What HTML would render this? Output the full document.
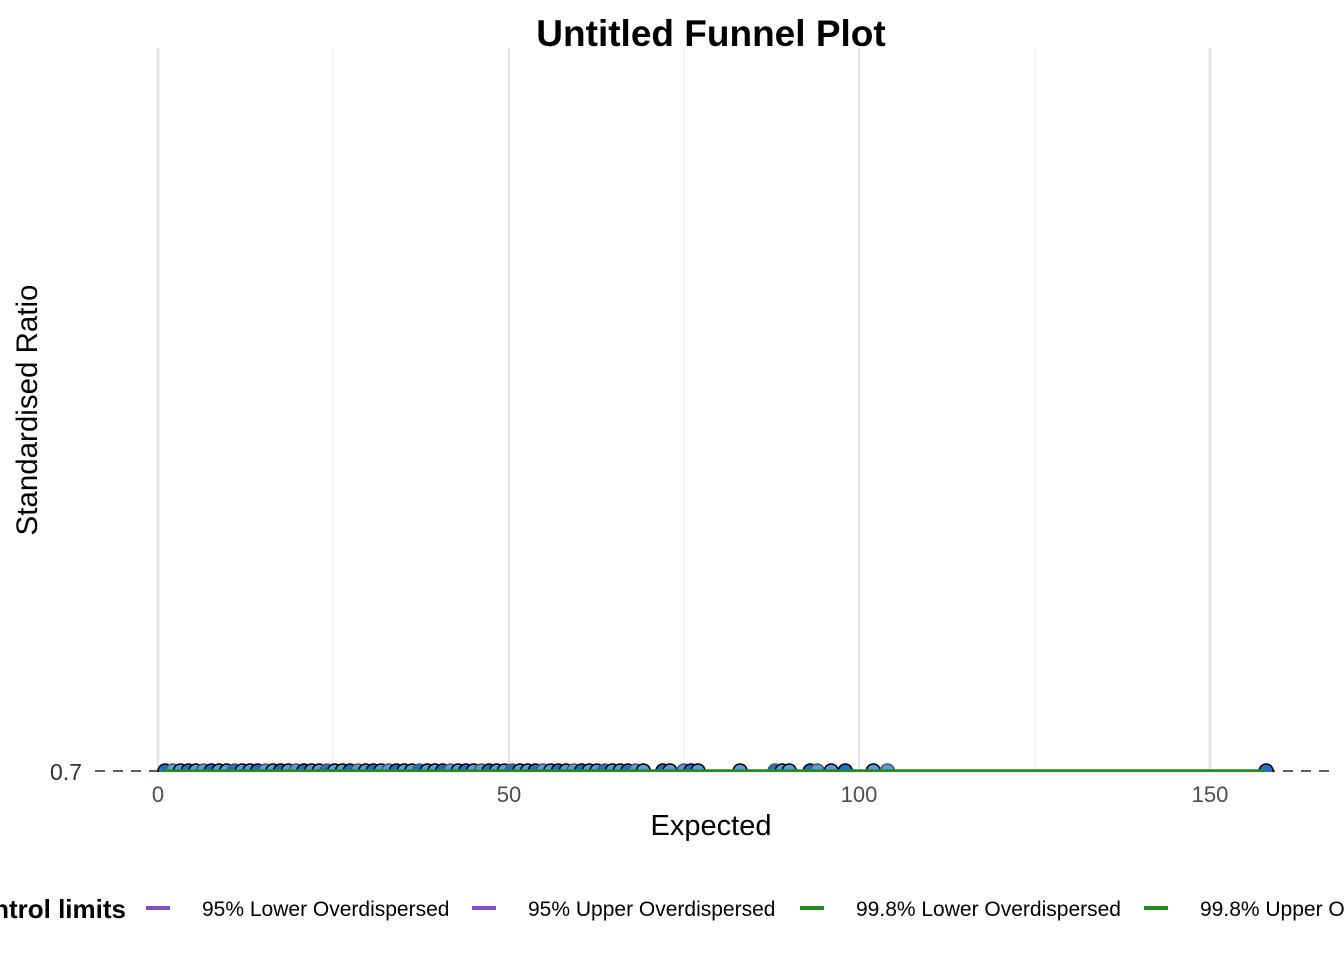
<!DOCTYPE html>
<html><head><meta charset="utf-8"><style>
html,body{margin:0;padding:0;background:#fff;}
svg{display:block;font-family:"Liberation Sans",Arial,sans-serif;}
</style></head><body>
<svg id="s" width="1344" height="960" viewBox="0 0 1344 960" xmlns="http://www.w3.org/2000/svg">
<defs><clipPath id="c"><rect x="100" y="40" width="1244" height="732"/></clipPath></defs>
<g stroke="#ebebeb" stroke-width="1.2">
<line x1="333" y1="48" x2="333" y2="772"/><line x1="684" y1="48" x2="684" y2="772"/><line x1="1035" y1="48" x2="1035" y2="772"/>
</g>
<g stroke="#e3e3e3" stroke-width="2.4">
<line x1="158" y1="48" x2="158" y2="772"/><line x1="509" y1="48" x2="509" y2="772"/><line x1="859" y1="48" x2="859" y2="772"/><line x1="1210" y1="48" x2="1210" y2="772"/>
</g>
<line x1="95" y1="771" x2="1330" y2="771" stroke="#000" stroke-width="1.2" stroke-dasharray="10,8"/>
<g id="pts" clip-path="url(#c)"></g>
<line x1="162" y1="771" x2="1265" y2="771" stroke="#228b22" stroke-width="3.5" clip-path="url(#c)"/>
<text x="711" y="46" text-anchor="middle" font-size="37" font-weight="bold">Untitled Funnel Plot</text>
<text x="82" y="780" text-anchor="end" font-size="23" fill="#333">0.7</text>
<g font-size="22" fill="#4d4d4d" text-anchor="middle">
<text x="158" y="802">0</text><text x="509" y="802">50</text><text x="859" y="802">100</text><text x="1210" y="802">150</text>
</g>
<text x="711" y="835" text-anchor="middle" font-size="29">Expected</text>
<text transform="translate(37,410) rotate(-90)" text-anchor="middle" font-size="29.5">Standardised Ratio</text>
<text x="126" y="918" text-anchor="end" font-size="26" font-weight="bold">Control limits</text>
<g stroke-width="4">
<line x1="146" y1="908" x2="170" y2="908" stroke="#7f4fbf"/>
<line x1="472" y1="908" x2="496" y2="908" stroke="#7f4fbf"/>
<line x1="800" y1="908" x2="824" y2="908" stroke="#228b22"/>
<line x1="1144" y1="908" x2="1168" y2="908" stroke="#228b22"/>
</g>
<g font-size="21">
<text x="202" y="916">95% Lower Overdispersed</text>
<text x="528" y="916">95% Upper Overdispersed</text>
<text x="856" y="916">99.8% Lower Overdispersed</text>
<text x="1200" y="916">99.8% Upper Overdispersed</text>
</g>
</svg>
<script>
var g=document.getElementById('pts'),xs=[];
for(var v=1;v<=70;v+=1.1)xs.push(v);
xs=xs.concat([72,73,75,76,77,83,88,89,90,93,94,96,98,102,104,158]);
var h='';
xs.forEach(function(v,i){var x=158+v*7.013;var f=(i%3==0)?'#1f6fd1':'#5a9be0';
h+='<circle cx="'+x.toFixed(1)+'" cy="771" r="7" fill="'+f+'" stroke="'+((i%4==1)?'#555':'#000')+'" stroke-width="1.5"/>';});
g.innerHTML=h;
</script>
</body></html>
